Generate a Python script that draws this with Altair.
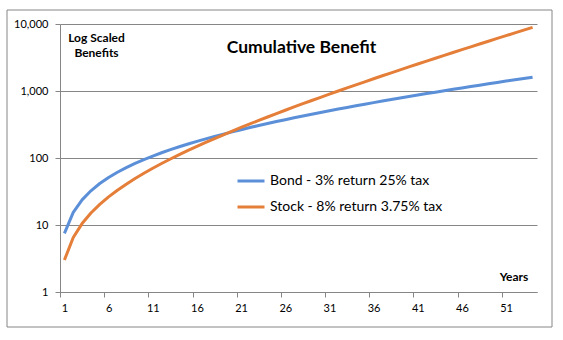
import altair as alt
import pandas as pd

years = list(range(1, 55))
bond = [7.5, 15.4, 23.7, 32.4, 41.6, 51.2, 61.3, 71.9, 83.1, 94.7,
        106.9, 119.7, 133.1, 147.1, 161.8, 177.1, 193.1, 209.8, 227.3, 245.6,
        264.7, 284.6, 305.4, 327.0, 349.6, 373.2, 397.8, 423.4, 450.1, 477.9,
        506.8, 537.0, 568.4, 601.1, 635.1, 670.5, 707.3, 745.6, 785.4, 826.8,
        869.9, 914.7, 961.2, 1009.6, 1059.8, 1112.0, 1166.3, 1222.6, 1281.1, 1341.9,
        1404.9, 1470.4, 1538.4, 1608.9]
stock = [3.0, 6.5, 10.5, 15.1, 20.3, 26.3, 33.0, 40.7, 49.4, 59.2,
         70.3, 82.7, 96.6, 112.2, 129.6, 149.1, 170.9, 195.2, 222.2, 252.2,
         285.6, 322.7, 363.9, 409.5, 460.1, 516.0, 578.0, 646.4, 722.1, 805.6,
         897.9, 999.6, 1111.8, 1235.4, 1371.6, 1521.6, 1686.7, 1868.3, 2068.0, 2287.6,
         2528.9, 2794.0, 3085.2, 3404.8, 3755.7, 4140.6, 4562.8, 5025.9, 5533.5, 6089.9,
         6699.5, 7367.3, 8098.7, 8899.6]
series_names = ["Bond - 3% return 25% tax", "Stock - 8% return 3.75% tax"]
series_colors = ["#5B8FD8", "#E47E38"]
y_ticks = [1, 10, 100, 1000, 10000]
x_tick_bounds = [0.5, 5.5, 10.5, 15.5, 20.5, 25.5, 30.5, 35.5, 40.5, 45.5, 50.5]
x_labels = [1, 6, 11, 16, 21, 26, 31, 36, 41, 46, 51]

assert len(bond) == len(years) == len(stock)

rows = []
for name, vals in zip(series_names, [bond, stock]):
    for yr, v in zip(years, vals):
        rows.append({"Year": yr, "Benefit": v, "Series": name})
df = pd.DataFrame(rows)

GRAY = "#868686"
FONT = "Lato"
xscale = alt.Scale(domain=[0.5, 54.5], nice=False, zero=False)
yscale = alt.Scale(type="log", domain=[1, 10000], nice=False)
yaxis = alt.Axis(values=y_ticks, format=",", title=None, grid=True,
                 gridColor=GRAY, gridOpacity=1, tickSize=5, tickColor=GRAY,
                 domainColor=GRAY, labelPadding=7, labelFont=FONT,
                 labelFontSize=11, labelColor="#000000")

lines = alt.Chart(df).mark_line(strokeWidth=3, strokeJoin="round").encode(
    x=alt.X("Year:Q", scale=xscale,
            axis=alt.Axis(values=x_tick_bounds, labels=False, orient="bottom",
                          title=None, grid=False, tickSize=5,
                          tickColor=GRAY, domainColor=GRAY)),
    y=alt.Y("Benefit:Q", scale=yscale, axis=yaxis),
    color=alt.Color("Series:N",
                    scale=alt.Scale(domain=series_names, range=series_colors),
                    legend=alt.Legend(orient="none", legendX=176, legendY=142,
                                      title=None, symbolType="stroke",
                                      symbolSize=729, symbolStrokeWidth=3,
                                      rowPadding=4, labelOffset=4, padding=0,
                                      labelLimit=400,
                                      labelFont=FONT, labelFontSize=14,
                                      labelColor="#000000")),
)

xlabels_layer = alt.Chart(df).mark_line(opacity=0).encode(
    x=alt.X("Year:Q", scale=xscale,
            axis=alt.Axis(values=x_labels, format="d", orient="bottom", title=None,
                          grid=False, ticks=False, domain=False, labelPadding=10,
                          labelFont=FONT, labelFontSize=11, labelColor="#000000")),
    y=alt.Y("Benefit:Q", scale=yscale, axis=yaxis),
    detail="Series:N",
)

blank = pd.DataFrame({"k": [0]})

frame = alt.Chart(blank).mark_rect(fill=None, stroke=GRAY, strokeWidth=1).encode(
    x=alt.value(-53), x2=alt.value(492), y=alt.value(-14), y2=alt.value(303))

title = alt.Chart(blank).mark_text(text="Cumulative Benefit", font=FONT, fontSize=17.5,
                                   fontWeight="bold", align="center",
                                   baseline="alphabetic", color="#000000").encode(
    x=alt.value(241.5), y=alt.value(29))

ylab = alt.Chart(blank).mark_text(text=["Log Scaled", "Benefits"], font=FONT, fontSize=12,
                                  fontWeight="bold", align="center", lineHeight=15,
                                  baseline="alphabetic", color="#000000").encode(
    x=alt.value(36.5), y=alt.value(18))

xlab = alt.Chart(blank).mark_text(text="Years", font=FONT, fontSize=12,
                                  fontWeight="bold", align="center",
                                  baseline="alphabetic", color="#000000").encode(
    x=alt.value(454), y=alt.value(257))

chart = alt.layer(lines, xlabels_layer, frame, title, ylab, xlab).resolve_axis(
    x="independent"
).properties(
    width=477, height=268,
    autosize=alt.AutoSizeParams(type="none"),
    padding={"left": 60, "top": 24, "right": 26, "bottom": 48},
    background="#ffffff",
).configure_view(stroke=None)

chart.save("out.html", embed_options={"renderer": "svg", "actions": False})
